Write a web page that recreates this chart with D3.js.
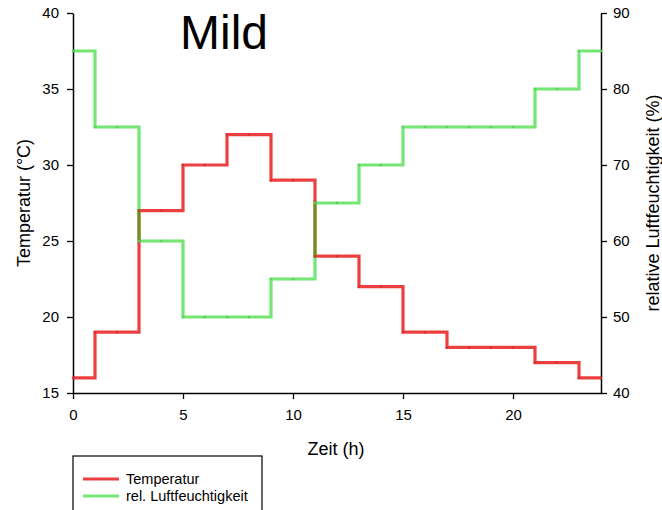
<!DOCTYPE html>
<html>
<head>
<meta charset="utf-8">
<script src="https://cdn.jsdelivr.net/npm/d3@7"></script>
<style>
  body { margin: 0; background: #fff; }
  text { font-family: "Liberation Sans", Arial, sans-serif; fill: #000; }
</style>
</head>
<body>
<div id="chart"></div>
<script>
// hourly readings (step after)
const hours = d3.range(0, 25);
const temperature = [16, 19, 19, 27, 27, 30, 30, 32, 32, 29, 29, 24, 24, 22, 22, 19, 19, 18, 18, 18, 18, 17, 17, 16, 16];
const humidity = [85, 75, 75, 60, 60, 50, 50, 50, 50, 55, 55, 65, 65, 70, 70, 75, 75, 75, 75, 75, 75, 80, 80, 85, 85];
const xTicks = [0, 5, 10, 15, 20];
const tempTicks = [15, 20, 25, 30, 35, 40];
const humTicks = [40, 50, 60, 70, 80, 90];

const W = 662, H = 510;
const plot = { left: 73, right: 601, top: 13, bottom: 393 };

const svg = d3.select('#chart').append('svg')
  .attr('width', W)
  .attr('height', H);

const x = d3.scaleLinear().domain([0, 24]).range([plot.left, plot.right]);
const yT = d3.scaleLinear().domain([15, 40]).range([plot.bottom, plot.top]);
const yH = d3.scaleLinear().domain([40, 90]).range([plot.bottom, plot.top]);

// axes
const axisStyle = g => {
  g.select('.domain').attr('stroke', '#000').attr('stroke-width', 1.5);
  g.selectAll('.tick line').attr('stroke', '#000').attr('stroke-width', 1.3);
  g.selectAll('.tick text').attr('font-size', 15).attr('font-family', '"Liberation Sans", Arial, sans-serif');
};

svg.append('g')
  .attr('transform', `translate(0,${plot.bottom})`)
  .call(d3.axisBottom(x).tickValues(xTicks).tickSize(6).tickPadding(10).tickSizeOuter(0))
  .call(axisStyle);

svg.append('g')
  .attr('transform', `translate(${plot.left},0)`)
  .call(d3.axisLeft(yT).tickValues(tempTicks).tickSize(6).tickPadding(8).tickSizeOuter(0))
  .call(axisStyle);

svg.append('g')
  .attr('transform', `translate(${plot.right},0)`)
  .call(d3.axisRight(yH).tickValues(humTicks).tickSize(6).tickPadding(6).tickSizeOuter(0))
  .call(axisStyle);

// lines
const tempLine = d3.line().curve(d3.curveStepAfter).x((d, i) => x(hours[i])).y(d => yT(d));
const humLine = d3.line().curve(d3.curveStepAfter).x((d, i) => x(hours[i])).y(d => yH(d));

const lines = svg.append('g');

lines.append('path')
  .datum(temperature)
  .attr('d', tempLine)
  .attr('fill', 'none')
  .attr('stroke', 'rgb(230,0,0)')
  .attr('stroke-opacity', 0.75)
  .attr('stroke-width', 3.2);

lines.append('path')
  .datum(humidity)
  .attr('d', humLine)
  .attr('fill', 'none')
  .attr('stroke', 'rgb(0,210,0)')
  .attr('stroke-opacity', 0.55)
  .attr('stroke-width', 3.2);

// little markers on each hour
lines.selectAll('.tdot')
  .data(temperature)
  .join('circle')
  .attr('cx', (d, i) => x(hours[i]))
  .attr('cy', d => yT(d))
  .attr('r', 1.2)
  .attr('fill', '#d42e2e');

lines.selectAll('.hdot')
  .data(humidity)
  .join('circle')
  .attr('cx', (d, i) => x(hours[i]))
  .attr('cy', d => yH(d))
  .attr('r', 1.2)
  .attr('fill', '#5ad45a');

// titles
svg.append('text')
  .attr('x', 224).attr('y', 49)
  .attr('text-anchor', 'middle')
  .attr('font-size', 48)
  .text('Mild');

svg.append('text')
  .attr('x', 336).attr('y', 455)
  .attr('text-anchor', 'middle')
  .attr('font-size', 18)
  .text('Zeit (h)');

svg.append('text')
  .attr('transform', `translate(30,${(plot.top + plot.bottom) / 2}) rotate(-90)`)
  .attr('text-anchor', 'middle')
  .attr('font-size', 18)
  .text('Temperatur (°C)');

svg.append('text')
  .attr('transform', `translate(659,${(plot.top + plot.bottom) / 2}) rotate(-90)`)
  .attr('text-anchor', 'middle')
  .attr('font-size', 18)
  .text('relative Luftfeuchtigkeit (%)');

// legend
const legend = svg.append('g').attr('transform', 'translate(73,456)');
legend.append('rect')
  .attr('width', 189).attr('height', 70)
  .attr('fill', '#fff').attr('stroke', '#000').attr('stroke-width', 1.2);

const legendItems = [
  { label: 'Temperatur', color: 'rgb(230,0,0)', opacity: 0.75 },
  { label: 'rel. Luftfeuchtigkeit', color: 'rgb(0,210,0)', opacity: 0.55 }
];
legendItems.forEach((d, i) => {
  const row = legend.append('g').attr('transform', `translate(0,${23 + i * 17})`);
  row.append('line')
    .attr('x1', 10).attr('x2', 46)
    .attr('stroke', d.color).attr('stroke-opacity', d.opacity).attr('stroke-width', 3);
  row.append('text')
    .attr('x', 53).attr('y', 5)
    .attr('font-size', 14.5)
    .text(d.label);
});
</script>
</body>
</html>
